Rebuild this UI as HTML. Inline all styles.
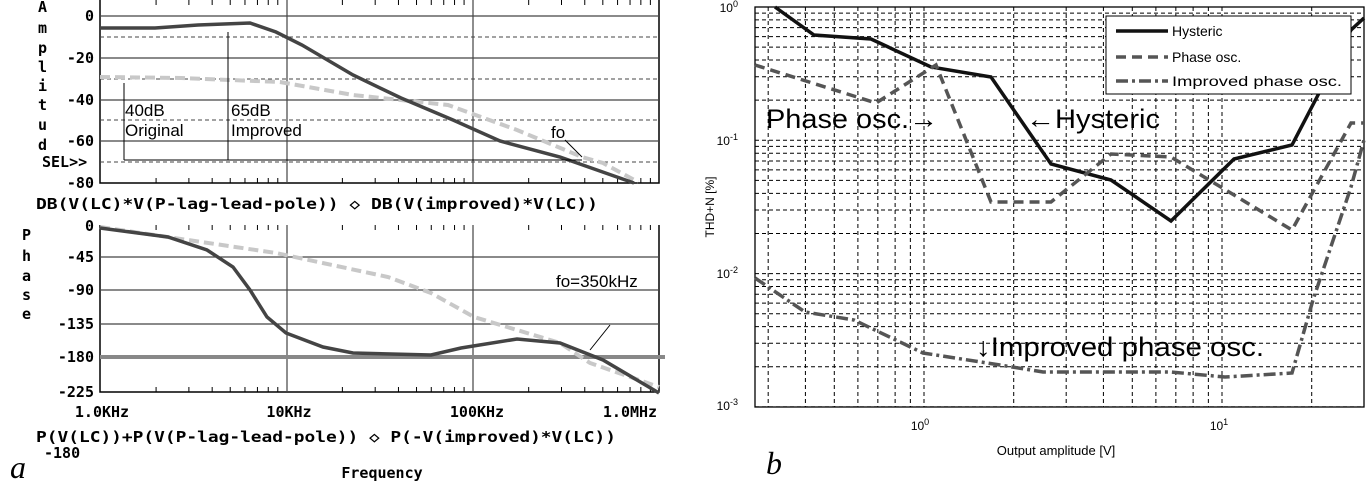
<!DOCTYPE html>
<html><head><meta charset="utf-8"><style>
body{margin:0;background:#fff;width:1372px;height:492px;overflow:hidden}
svg{display:block}
.m{font-family:"DejaVu Sans Mono","Liberation Mono",monospace;font-weight:bold;font-size:15px;fill:#000}
.s{font-family:"Liberation Sans",sans-serif;fill:#000}
</style></head><body>
<svg id="s" width="1372" height="492" viewBox="0 0 1372 492" xmlns="http://www.w3.org/2000/svg">
<g id="g"></g>
<g stroke="#000" stroke-width="1.5" fill="none">
<polyline points="100,0 100,183 659,183 659,0"/>
<polyline points="100,225 100,392 659,392 659,225"/>
</g>
<g stroke="#444" stroke-width="1.2">
<line x1="100" y1="16" x2="659" y2="16"/><line x1="100" y1="58" x2="659" y2="58"/><line x1="100" y1="100" x2="659" y2="100"/><line x1="100" y1="141" x2="659" y2="141"/>
<line x1="287" y1="0" x2="287" y2="183"/><line x1="473" y1="0" x2="473" y2="183"/>
<line x1="100" y1="257" x2="659" y2="257"/><line x1="100" y1="290" x2="659" y2="290"/><line x1="100" y1="324" x2="659" y2="324"/>
<line x1="287" y1="225" x2="287" y2="392"/><line x1="473" y1="225" x2="473" y2="392"/>
</g>
<g stroke="#444" stroke-width="1" stroke-dasharray="4,3">
<line x1="100" y1="37" x2="659" y2="37"/><line x1="100" y1="79" x2="659" y2="79"/><line x1="100" y1="120" x2="659" y2="120"/><line x1="100" y1="162" x2="659" y2="162"/>
</g>
<g id="lt"></g>
<polyline fill="none" stroke="#c8c8c8" stroke-width="4" stroke-dasharray="10,5" points="100,77 181,78 280,82 353,95 448,105 517,130 582,157 603,163 638,182"/>
<polyline fill="none" stroke="#444" stroke-width="3.5" points="100,28 155,28 198,25 250,23 276,32 302,45 353,75 401,98 453,120 500,141 560,157 634,183"/>
<g stroke="#000" stroke-width="1" fill="none">
<line x1="124" y1="83" x2="124" y2="160"/><line x1="228" y1="32" x2="228" y2="160"/><line x1="124" y1="160" x2="582" y2="160"/>
<line x1="565" y1="140" x2="582" y2="157"/>
<line x1="610" y1="325" x2="590" y2="350"/>
</g>
<text class="s" x="125" y="116" font-size="17">40dB</text><text class="s" x="125" y="136" font-size="17">Original</text>
<text class="s" x="231" y="116" font-size="17">65dB</text><text class="s" x="231" y="136" font-size="17">Improved</text>
<text class="s" x="551" y="138" font-size="17">fo</text>
<text class="s" x="556" y="287" font-size="17">fo=350kHz</text>
<line x1="100" y1="357" x2="665" y2="357" stroke="#888" stroke-width="4"/>
<polyline fill="none" stroke="#c8c8c8" stroke-width="4" stroke-dasharray="10,5" points="100,227 276,253 388,277 431,293 474,317 560,343 590,363 659,387"/>
<polyline fill="none" stroke="#444" stroke-width="3.5" points="100,228 168,237 207,250 233,267 250,290 267,317 286,333 323,347 353,353 431,355 461,348 517,339 560,343 603,360 659,393"/>
<g class="m">
<text x="38" y="12">A</text><text x="38" y="33">m</text><text x="38" y="53">p</text><text x="38" y="72">l</text><text x="38" y="91">i</text><text x="38" y="110">t</text><text x="38" y="130">u</text><text x="38" y="150">d</text>
<text x="94" y="21" text-anchor="end">0</text><text x="94" y="63" text-anchor="end">-20</text><text x="94" y="105" text-anchor="end">-40</text><text x="94" y="146" text-anchor="end">-60</text><text x="94" y="188" text-anchor="end">-80</text>
<text x="42" y="167">SEL&gt;&gt;</text>
<text x="36" y="209" textLength="562" lengthAdjust="spacingAndGlyphs">DB(V(LC)*V(P-lag-lead-pole)) ◇ DB(V(improved)*V(LC))</text>
<text x="22" y="240">P</text><text x="22" y="261">h</text><text x="22" y="281">a</text><text x="22" y="300">s</text><text x="22" y="319">e</text>
<text x="94" y="231" text-anchor="end">0</text><text x="94" y="262" text-anchor="end">-45</text><text x="94" y="295" text-anchor="end">-90</text><text x="94" y="329" text-anchor="end">-135</text><text x="94" y="362" text-anchor="end">-180</text><text x="94" y="397" text-anchor="end">-225</text>
<text x="102" y="417" text-anchor="middle">1.0KHz</text><text x="289" y="417" text-anchor="middle">10KHz</text><text x="477" y="417" text-anchor="middle">100KHz</text><text x="630" y="417" text-anchor="middle">1.0MHz</text>
<text x="36" y="442" textLength="580" lengthAdjust="spacingAndGlyphs">P(V(LC))+P(V(P-lag-lead-pole)) ◇ P(-V(improved)*V(LC))</text>
<text x="44" y="458">-180</text>
<text x="382" y="478" text-anchor="middle">Frequency</text>
</g>
<text x="10" y="478" font-family="Liberation Serif,serif" font-style="italic" font-size="32">a</text>
<g id="rg"></g>
<rect x="755" y="7" width="609" height="400" fill="none" stroke="#000" stroke-width="1.3"/>
<polyline fill="none" stroke="#111" stroke-width="3.5" points="775,7 814,35 871,39 931,67 991,77 1051,164 1111,180 1171,221 1234,159 1292,145 1317,97 1351,30 1364,18"/>
<polyline fill="none" stroke="#555" stroke-width="3.5" stroke-dasharray="10,6" points="755,65 876,103 936,65 991,202 1051,202 1111,154 1171,157 1292,230 1351,123 1364,123"/>
<polyline fill="none" stroke="#555" stroke-width="3.5" stroke-dasharray="12,4,3,4" points="755,278 805,312 854,320 923,353 1000,365 1043,372 1171,372 1225,377 1292,373 1313,300 1351,187 1364,140"/>
<rect x="1106" y="16" width="245" height="78" fill="#fff" stroke="#000" stroke-width="1"/>
<line x1="1116" y1="31" x2="1168" y2="31" stroke="#111" stroke-width="3.5"/>
<line x1="1116" y1="57" x2="1168" y2="57" stroke="#555" stroke-width="3.5" stroke-dasharray="10,6"/>
<line x1="1116" y1="81" x2="1168" y2="81" stroke="#555" stroke-width="3.5" stroke-dasharray="12,4,3,4"/>
<g class="s" font-size="14"><text x="1172" y="36">Hysteric</text><text x="1172" y="62">Phase osc.</text><text x="1172" y="86" textLength="170" lengthAdjust="spacingAndGlyphs">Improved phase osc.</text></g>
<g class="s" font-size="27"><text x="766" y="128" textLength="172" lengthAdjust="spacingAndGlyphs">Phase osc.→</text><text x="1026" y="128" textLength="134" lengthAdjust="spacingAndGlyphs">←Hysteric</text><text x="976" y="356" textLength="288" lengthAdjust="spacingAndGlyphs">↓Improved phase osc.</text></g>
<g class="s" font-size="12">
<text x="738" y="12" text-anchor="end">10<tspan dy="-5" font-size="9">0</tspan></text>
<text x="738" y="145" text-anchor="end">10<tspan dy="-5" font-size="9">-1</tspan></text>
<text x="738" y="278" text-anchor="end">10<tspan dy="-5" font-size="9">-2</tspan></text>
<text x="738" y="410" text-anchor="end">10<tspan dy="-5" font-size="9">-3</tspan></text>
<text x="920" y="430" text-anchor="middle">10<tspan dy="-5" font-size="9">0</tspan></text>
<text x="1219" y="430" text-anchor="middle">10<tspan dy="-5" font-size="9">1</tspan></text>
<text x="1056" y="455" text-anchor="middle" font-size="13">Output amplitude [V]</text>
<text transform="translate(714,207) rotate(-90)" text-anchor="middle">THD+N [%]</text>
</g>
<text x="766" y="474" font-family="Liberation Serif,serif" font-style="italic" font-size="32">b</text>
</svg>
<script>
var NS="http://www.w3.org/2000/svg";
function L(p,x1,y1,x2,y2,st){var l=document.createElementNS(NS,"line");l.setAttribute("x1",x1);l.setAttribute("y1",y1);l.setAttribute("x2",x2);l.setAttribute("y2",y2);for(var k in st)l.setAttribute(k,st[k]);p.appendChild(l);}
var lt=document.getElementById("lt");
for(var d=0;d<3;d++)for(var m=2;m<10;m++){var x=100+186.3*(d+Math.log10(m));
L(lt,x,183,x,178,{stroke:"#000"});L(lt,x,0,x,5,{stroke:"#000"});L(lt,x,392,x,387,{stroke:"#000"});L(lt,x,225,x,230,{stroke:"#000"});}
var rg=document.getElementById("rg");var ds={stroke:"#000","stroke-width":"1","stroke-dasharray":"4,3"};
[0.3,0.4,0.5,0.6,0.7,0.8,0.9,1,2,3,4,5,6,7,8,9,10,20].forEach(function(v){var x=924+298*Math.log10(v);L(rg,x,7,x,407,ds);});
for(var e=-3;e<0;e++)for(var m=1;m<10;m++){var v=m*Math.pow(10,e);var y=7+133.3*(-Math.log10(v));if(y<407)L(rg,755,y,1364,y,ds);}
</script>
</body></html>
